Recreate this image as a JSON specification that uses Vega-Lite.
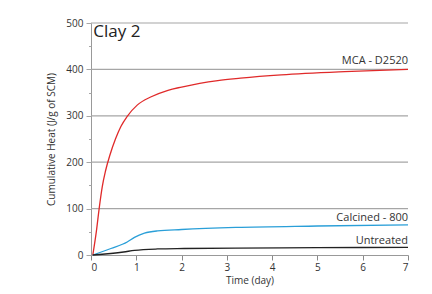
{
  "$schema": "https://vega.github.io/schema/vega-lite/v6.json",
  "width": 317,
  "height": 232,
  "autosize": {"type": "none"},
  "padding": {"left": 91, "top": 23, "right": 24, "bottom": 39},
  "background": "white",
  "config": {"view": {"stroke": null}, "font": "Open Sans"},
  "datasets": {
    "curves": [
      {"series": "MCA - D2520", "t": 0.04, "q": 0},
      {"series": "MCA - D2520", "t": 0.12, "q": 52},
      {"series": "MCA - D2520", "t": 0.18, "q": 100},
      {"series": "MCA - D2520", "t": 0.25, "q": 148},
      {"series": "MCA - D2520", "t": 0.32, "q": 181},
      {"series": "MCA - D2520", "t": 0.42, "q": 216},
      {"series": "MCA - D2520", "t": 0.54, "q": 250},
      {"series": "MCA - D2520", "t": 0.66, "q": 277},
      {"series": "MCA - D2520", "t": 0.8, "q": 299},
      {"series": "MCA - D2520", "t": 1.02, "q": 323},
      {"series": "MCA - D2520", "t": 1.33, "q": 341},
      {"series": "MCA - D2520", "t": 1.7, "q": 355},
      {"series": "MCA - D2520", "t": 2.0, "q": 362},
      {"series": "MCA - D2520", "t": 2.4, "q": 370},
      {"series": "MCA - D2520", "t": 2.8, "q": 376},
      {"series": "MCA - D2520", "t": 3.3, "q": 381},
      {"series": "MCA - D2520", "t": 4.2, "q": 388},
      {"series": "MCA - D2520", "t": 5.6, "q": 395},
      {"series": "MCA - D2520", "t": 7.0, "q": 400},
      {"series": "Calcined - 800", "t": 0.04, "q": 0},
      {"series": "Calcined - 800", "t": 0.44, "q": 14},
      {"series": "Calcined - 800", "t": 0.8, "q": 28},
      {"series": "Calcined - 800", "t": 0.96, "q": 38},
      {"series": "Calcined - 800", "t": 1.18, "q": 47},
      {"series": "Calcined - 800", "t": 1.47, "q": 52},
      {"series": "Calcined - 800", "t": 2.0, "q": 55},
      {"series": "Calcined - 800", "t": 3.2, "q": 59.5},
      {"series": "Calcined - 800", "t": 5.0, "q": 62.5},
      {"series": "Calcined - 800", "t": 7.0, "q": 65},
      {"series": "Untreated", "t": 0.04, "q": 0},
      {"series": "Untreated", "t": 0.72, "q": 6.5},
      {"series": "Untreated", "t": 0.96, "q": 10},
      {"series": "Untreated", "t": 1.47, "q": 13},
      {"series": "Untreated", "t": 2.06, "q": 14},
      {"series": "Untreated", "t": 3.2, "q": 15},
      {"series": "Untreated", "t": 5.0, "q": 15.8},
      {"series": "Untreated", "t": 7.0, "q": 16.5}
    ],
    "grid": [{"q": 100}, {"q": 200}, {"q": 300}, {"q": 400}, {"q": 500}],
    "labels": [
      {"label": "MCA - D2520", "t": 7, "q": 411},
      {"label": "Calcined - 800", "t": 7, "q": 73},
      {"label": "Untreated", "t": 7, "q": 24}
    ],
    "title": [{"label": "Clay 2", "t": 0.05, "q": 497}]
  },
  "resolve": {"axis": {"y": "independent"}},
  "layer": [
    {
      "data": {"name": "grid"},
      "mark": {"type": "rule", "color": "#a6a6a6", "strokeWidth": 1.2},
      "encoding": {
        "y": {"field": "q", "type": "quantitative", "axis": null}
      }
    },
    {
      "data": {"name": "curves"},
      "mark": {"type": "line", "strokeWidth": 1.3, "interpolate": "monotone"},
      "encoding": {
        "x": {
          "field": "t", "type": "quantitative",
          "scale": {"domain": [0, 7], "nice": false},
          "axis": {
            "title": "Time (day)",
            "titleFontWeight": "normal", "titleFontSize": 10, "titleColor": "#333", "titlePadding": 3,
            "values": [0, 0.5, 1, 1.5, 2, 2.5, 3, 3.5, 4, 4.5, 5, 5.5, 6, 6.5, 7],
            "labelExpr": "datum.value % 1 === 0 ? datum.label : ''",
            "tickSize": {"condition": {"test": "datum.value % 1 === 0", "value": 5}, "value": 2.5},
            "tickColor": "#888", "domainColor": "#999",
            "labelFontSize": 10, "labelColor": "#333", "labelPadding": 2,
            "grid": false
          }
        },
        "y": {
          "field": "q", "type": "quantitative",
          "scale": {"domain": [0, 500], "nice": false},
          "axis": {
            "title": "Cumulative Heat (J/g of SCM)",
            "titleFontWeight": "normal", "titleFontSize": 10, "titleColor": "#333", "titlePadding": 9,
            "values": [0, 100, 200, 300, 400, 500],
            "tickSize": 5,
            "grid": false,
            "tickColor": "#a6a6a6", "domainColor": "#999",
            "labelFontSize": 10, "labelColor": "#333", "labelPadding": 3
          }
        },
        "color": {
          "field": "series", "type": "nominal",
          "scale": {"domain": ["MCA - D2520", "Calcined - 800", "Untreated"], "range": ["#e02a2a", "#2a9fd8", "#222222"]},
          "legend": null
        },
        "detail": {"field": "series"}
      }
    },
    {
      "data": {"name": "labels"},
      "mark": {"type": "text", "align": "right", "baseline": "alphabetic", "fontSize": 11, "color": "#333"},
      "encoding": {
        "x": {"field": "t", "type": "quantitative"},
        "y": {
          "field": "q", "type": "quantitative",
          "axis": {
            "orient": "left", "title": null, "labels": false, "domain": false, "grid": false,
            "values": [50, 150, 250, 350, 450], "tickSize": 2.5, "tickColor": "#a6a6a6"
          }
        },
        "text": {"field": "label"}
      }
    },
    {
      "data": {"name": "title"},
      "mark": {"type": "text", "align": "left", "baseline": "top", "fontSize": 17, "color": "#222"},
      "encoding": {
        "x": {"field": "t", "type": "quantitative"},
        "y": {"field": "q", "type": "quantitative", "axis": null},
        "text": {"field": "label"}
      }
    }
  ]
}
